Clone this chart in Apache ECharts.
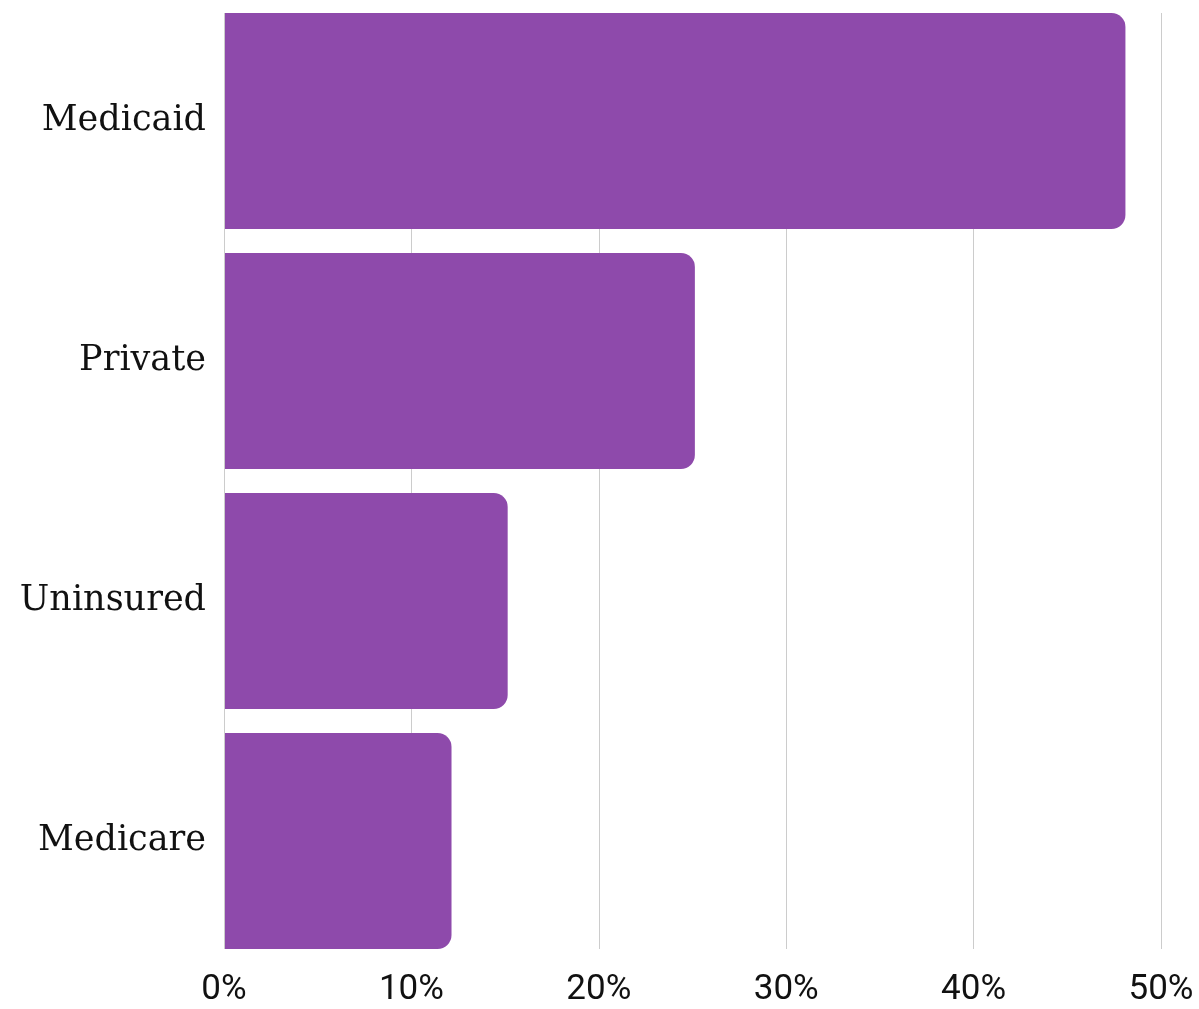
<!DOCTYPE html>
<html>
<head>
<meta charset="utf-8">
<script src="https://cdn.jsdelivr.net/npm/echarts@6/dist/echarts.min.js"></script>
<style>html,body{margin:0;padding:0;background:#fff;}#c{width:1199px;height:1009px;}</style>
</head>
<body>
<div id="c"></div>
<script>
const categories = ['Medicaid', 'Private', 'Uninsured', 'Medicare'];
const values = [48.1, 25.1, 15.1, 12.1];
const tickValues = [0, 10, 20, 30, 40, 50];

const chart = echarts.init(document.getElementById('c'), null, {renderer: 'canvas'});
chart.setOption({
  animation: false,
  grid: [
    {left: 224, right: 38, top: 13, height: 936},
    {left: 225, right: 38, top: 1, height: 960}
  ],
  xAxis: [
    {
      gridIndex: 0, type: 'value', min: 0, max: 50, interval: 10,
      axisLine: {show: false}, axisTick: {show: false},
      splitLine: {show: true, lineStyle: {color: '#cccccc', width: 1}},
      axisLabel: {fontFamily: 'Roboto', fontSize: 35, color: '#111', margin: 24, formatter: v => v + '%'}
    },
    {
      gridIndex: 1, type: 'value', min: 0, max: 50, interval: 10, show: false
    }
  ],
  yAxis: [
    {gridIndex: 0, type: 'category', data: categories, inverse: true, show: false},
    {
      gridIndex: 1, type: 'category', data: categories, inverse: true,
      axisLine: {show: false}, axisTick: {show: false},
      axisLabel: {fontFamily: 'DejaVu Serif', fontSize: 35, color: '#111', margin: 19}
    }
  ],
  series: [{
    type: 'bar', xAxisIndex: 1, yAxisIndex: 1,
    data: values, barWidth: 216,
    itemStyle: {color: '#8e4aab', borderRadius: [0, 14, 14, 0]}
  }]
});
</script>
</body>
</html>
